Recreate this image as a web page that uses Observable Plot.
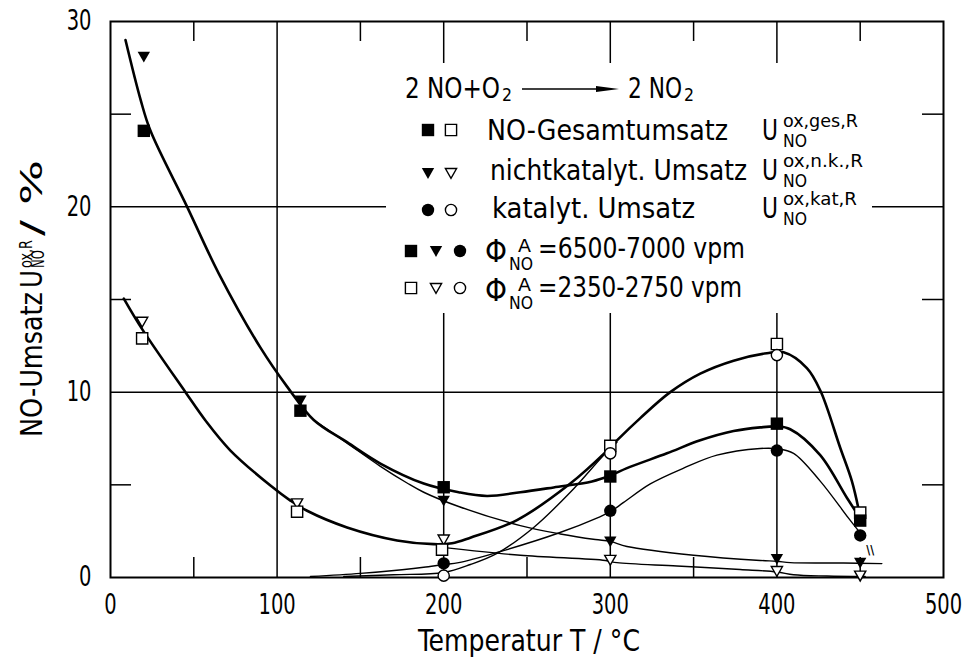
<!DOCTYPE html>
<html><head><meta charset="utf-8">
<script src="https://cdn.jsdelivr.net/npm/d3@7"></script>
<script src="https://cdn.jsdelivr.net/npm/@observablehq/plot@0.6"></script>
<style>
body{margin:0;background:#fff;}
#chart{width:966px;height:660px;}
</style></head><body><div id="chart"></div>
<script>
// ---- axes ----
const xTicks = [0, 100, 200, 300, 400, 500];
const yTicks = [0, 10, 20, 30];
const xGrid = [100, 200, 300, 400];
const yGrid = [10, 20];
const xMinor = [50, 150, 250, 350, 450];
const yMinor = [5, 15, 25];

// ---- measured points: 6500-7000 vpm (filled) ----
const hiGesT = [20, 114, 200, 300, 400, 450];
const hiGesU = [24.1, 9.0, 4.87, 5.45, 8.3, 3.07];
const hiNkT = [20, 114, 200, 300, 400, 450];
const hiNkU = [28.1, 9.55, 4.15, 1.95, 1.0, 0.8];
const hiKatT = [200, 300, 400, 450];
const hiKatU = [0.76, 3.6, 6.85, 2.27];
// ---- measured points: 2350-2750 vpm (open) ----
const loGesT = [19, 112, 199, 300, 400, 450];
const loGesU = [12.9, 3.55, 1.5, 7.1, 12.6, 3.5];
const loNkT = [19, 112, 200, 300, 400, 450];
const loNkU = [13.8, 4.0, 2.05, 0.95, 0.35, 0.1];
const loKatT = [200, 300, 400];
const loKatU = [0.1, 6.7, 12.0];

// ---- fitted curves ----
const cHiGesT = [9, 18, 24, 46, 65, 90, 106, 122, 142, 162, 188, 209, 226, 246, 266, 289, 300, 310, 334, 354, 374, 390, 400, 408, 426, 442, 450];
const cHiGesU = [29, 25.8, 24.1, 20, 16.4, 12.4, 10.3, 8.5, 7.3, 6.15, 5.07, 4.6, 4.4, 4.6, 4.86, 5.18, 5.5, 5.9, 6.7, 7.4, 7.9, 8.1, 8.15, 8.0, 6.6, 4.3, 3.2];
const cHiNkT = [122, 142, 162, 178, 188, 209, 246, 270, 291, 300, 310, 350, 390, 400, 408, 440, 463];
const cHiNkU = [8.5, 7.25, 6.0, 5.1, 4.6, 3.83, 2.8, 2.35, 2.05, 1.95, 1.67, 1.2, 0.92, 0.88, 0.8, 0.78, 0.75];
const cHiKatT = [120, 150, 175, 188, 200, 209, 232, 269, 293, 300, 308, 324, 344, 364, 390, 400, 410, 426, 443, 450];
const cHiKatU = [0.05, 0.22, 0.42, 0.55, 0.7, 0.8, 1.35, 2.4, 3.25, 3.55, 4.05, 5.05, 5.9, 6.6, 6.96, 6.95, 6.7, 5.2, 3.2, 2.4];
const cLoGesT = [8, 19, 45, 57, 72, 96, 108, 118, 142, 172, 194, 205, 216, 244, 276, 297, 304, 318, 336, 354, 374, 394, 404, 418, 426, 438, 445, 449];
const cLoGesU = [15.05, 13.4, 10, 8.47, 6.85, 4.96, 4.15, 3.6, 2.7, 2.0, 1.8, 1.85, 2.15, 3.1, 5.07, 6.75, 7.4, 8.6, 10, 11, 11.7, 12.1, 12.15, 11.3, 10.1, 7.0, 5.2, 3.7];
const cLoNkT = [202, 246, 297, 304, 340, 378, 400, 410, 430, 453];
const cLoNkU = [1.6, 1.2, 0.92, 0.8, 0.62, 0.43, 0.3, 0.15, 0.08, 0.05];
const cLoKatT = [140, 170, 200, 216, 232, 254, 276, 296, 304];
const cLoKatU = [0.05, 0.15, 0.27, 0.7, 1.3, 2.7, 4.6, 6.6, 7.3];

const noteT = [456];
const noteU = [1.45];
const noteText = ["\\\\"];

const FONT = '"Liberation Sans Narrow", "DejaVu Sans Condensed", "Liberation Sans", sans-serif';

const pts = (T, U) => T.map((t, i) => ({t, u: U[i]}));

const sqSym = {draw(c, s) { const r = Math.sqrt(s / Math.PI); c.moveTo(-r, -r); c.lineTo(r, -r); c.lineTo(r, r); c.lineTo(-r, r); c.closePath(); }};
const triSym = {draw(c, s) { const r = Math.sqrt(s / Math.PI); c.moveTo(-r, -0.8 * r); c.lineTo(r, -0.8 * r); c.lineTo(0, 0.95 * r); c.closePath(); }};
const ciSym = {draw(c, s) { const r = Math.sqrt(s / Math.PI); c.moveTo(r, 0); c.arc(0, 0, r, 0, 2 * Math.PI); c.closePath(); }};

const filled = (T, U, sym) => Plot.dot(pts(T, U), {x: "t", y: "u", symbol: () => sym, r: 6.2, fill: "black", stroke: "none"});
const open = (T, U, sym) => Plot.dot(pts(T, U), {x: "t", y: "u", symbol: () => sym, r: 5.6, fill: "white", stroke: "black", strokeWidth: 1.4});
const curve = (T, U, w) => Plot.line(pts(T, U), {x: "t", y: "u", curve: "catmull-rom", stroke: "black", strokeWidth: w});

const chart = Plot.plot({
  width: 966, height: 660,
  marginLeft: 110, marginRight: 23, marginTop: 21, marginBottom: 83,
  x: {domain: [0, 500]},
  y: {domain: [0, 30]},
  style: {fontFamily: FONT, fontSize: "28px", color: "black", background: "white"},
  marks: [
    Plot.ruleX(xGrid, {stroke: "black", strokeWidth: 1.5}),
    Plot.ruleY(yGrid, {stroke: "black", strokeWidth: 1.5}),
    Plot.tickX(xMinor, {x: d => d, stroke: "black", strokeWidth: 1.5, insetTop: 536}),
    Plot.tickX(xMinor, {x: d => d, stroke: "black", strokeWidth: 1.5, insetBottom: 536}),
    Plot.tickY(yMinor, {y: d => d, stroke: "black", strokeWidth: 1.5, insetRight: 812}),
    Plot.tickY(yMinor, {y: d => d, stroke: "black", strokeWidth: 1.5, insetLeft: 812}),
    Plot.axisX(xTicks, {anchor: "bottom", tickSize: 0, tickPadding: 17, fontSize: 28, label: null}),
    Plot.axisY(yTicks, {anchor: "left", tickSize: 0, tickPadding: 19, fontSize: 28, label: null}),
    Plot.frame({stroke: "black", strokeWidth: 2}),
    curve(cHiGesT, cHiGesU, 2.6),
    curve(cLoGesT, cLoGesU, 2.6),
    curve(cHiNkT, cHiNkU, 1.4),
    curve(cHiKatT, cHiKatU, 1.4),
    curve(cLoNkT, cLoNkU, 1.4),
    curve(cLoKatT, cLoKatU, 1.4),
    open(loNkT, loNkU, triSym),
    open(loGesT, loGesU, sqSym),
    open(loKatT, loKatU, ciSym),
    filled(hiNkT, hiNkU, triSym),
    filled(hiGesT, hiGesU, sqSym),
    filled(hiKatT, hiKatU, ciSym),
    Plot.text(pts(noteT, noteU), {x: "t", y: "u", text: (d, i) => noteText[i], fontSize: 12, fontWeight: "bold"})
  ]
});

document.getElementById("chart").appendChild(chart);

const svg = d3.select(chart);

// narrow the tick labels like the technical lettering of the original
svg.selectAll('g[aria-label="x-axis tick label"] text, g[aria-label="y-axis tick label"] text')
  .each(function () {
    const n = this.textContent.length;
    d3.select(this).attr("textLength", 12.4 * n).attr("lengthAdjust", "spacingAndGlyphs");
  });

// ---- annotations: legend box, axis titles ----
const box = document.createElementNS("http://www.w3.org/2000/svg", "rect");
box.setAttribute("x", 386); box.setAttribute("y", 63);
box.setAttribute("width", 486); box.setAttribute("height", 250);
box.setAttribute("fill", "#ffffff");
box.style.fill = "#ffffff";
chart.appendChild(box);

const g = svg.append("g").attr("font-family", FONT).attr("fill", "black").attr("text-anchor", "start");

function txt(parent, x, y, s, size, len) {
  const t = parent.append("text").attr("x", x).attr("y", y).attr("font-size", size).attr("text-anchor", "start").text(s);
  if (len) t.attr("textLength", len).attr("lengthAdjust", "spacingAndGlyphs");
  return t;
}
function sym(parent, x, y, symbol, isOpen, r) {
  parent.append("path")
    .attr("transform", `translate(${x},${y})`)
    .attr("d", d3.symbol(symbol, Math.PI * r * r)())
    .attr("fill", isOpen ? "white" : "black")
    .attr("stroke", isOpen ? "black" : "none")
    .attr("stroke-width", 1.4);
}

// reaction line
txt(g, 405, 98, "2 NO+O", 28, 95);
txt(g, 502, 101, "2", 17, 10);
g.append("line").attr("x1", 522).attr("x2", 600).attr("y1", 89).attr("y2", 89).attr("stroke", "black").attr("stroke-width", 1.3);
g.append("path").attr("d", "M596,86 L619,89 L596,92 Z").attr("fill", "black");
txt(g, 628, 98, "2 NO", 28, 54);
txt(g, 684, 101, "2", 17, 10);

// series rows
const rows = [
  {y: 140, sy: 130, x: 487, label: "NO-Gesamtumsatz", len: 241, sym: sqSym, sup: "ox,ges,R", supLen: 75},
  {y: 180, sy: 173, x: 490, label: "nichtkatalyt. Umsatz", len: 257, sym: triSym, sup: "ox,n.k.,R", supLen: 80},
  {y: 218, sy: 210, x: 492, label: "katalyt. Umsatz", len: 203, sym: ciSym, sup: "ox,kat,R", supLen: 74}
];
for (const r of rows) {
  sym(g, 428, r.sy, r.sym, false, 6.2);
  sym(g, 451, r.sy, r.sym, true, 5.6);
  txt(g, r.x, r.y, r.label, 28, r.len);
  txt(g, 762, r.y, "U", 28, 16);
  txt(g, 783, r.y - 13, r.sup, 17, r.supLen);
  txt(g, 783, r.y + 7, "NO", 17, 24);
}
// concentration rows
const conc = [
  {y: 258, sy: 251, isOpen: false, text: "=6500-7000 vpm", len: 207},
  {y: 297, sy: 288, isOpen: true, text: "=2350-2750 vpm", len: 204}
];
for (const c of conc) {
  const rr = c.isOpen ? 5.6 : 6.2;
  sym(g, 411, c.sy, sqSym, c.isOpen, rr);
  sym(g, 436, c.sy, triSym, c.isOpen, rr);
  sym(g, 460, c.sy, ciSym, c.isOpen, rr);
  txt(g, 485, c.y + 4, "Φ", 32, 22);
  txt(g, 518, c.y - 6, "A", 17, 13);
  txt(g, 509, c.y + 12, "NO", 17, 24);
  txt(g, 538, c.y, c.text, 28, c.len);
}

// x-axis title
txt(g, 418, 651, "Temperatur T / °C", 30, 222);

// y-axis title (rotated)
function rtxt(X, Y, s, size, len) {
  const t = g.append("text").attr("text-anchor", "start")
    .attr("transform", `translate(${X},${Y}) rotate(-90)`).attr("font-size", size).text(s);
  if (len) t.attr("textLength", len).attr("lengthAdjust", "spacingAndGlyphs");
}
rtxt(42, 437, "NO-Umsatz", 31, 145);
rtxt(42, 288, "U", 31, 18);
rtxt(32, 268, "ox,R", 17, 28);
rtxt(44, 268, "NO", 17, 18);
rtxt(42, 236, "/ %", 31, 76);
</script>
</body></html>
